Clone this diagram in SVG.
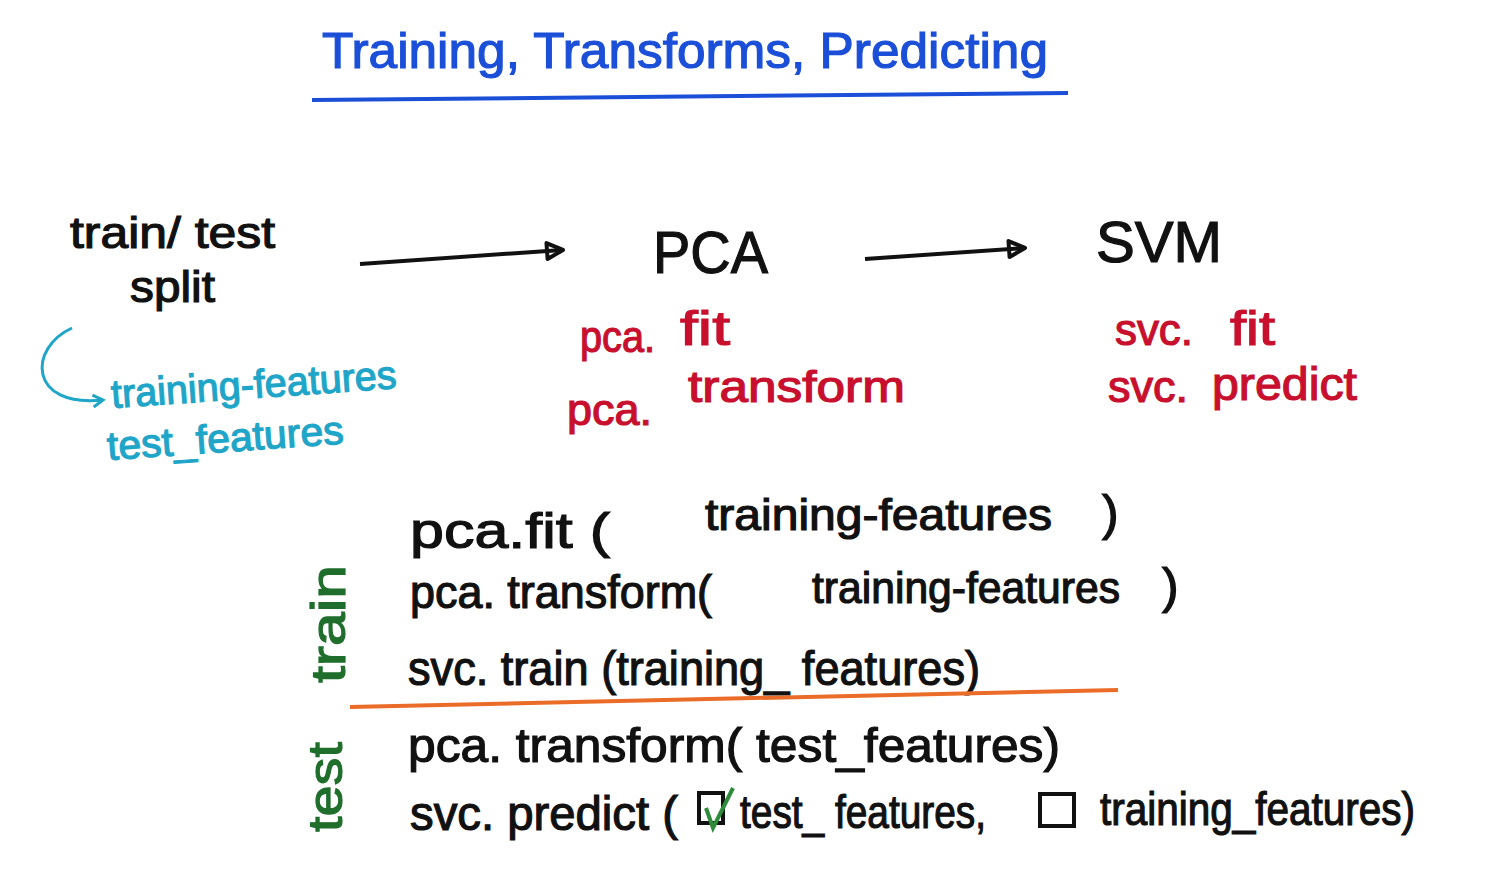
<svg xmlns="http://www.w3.org/2000/svg" width="1498" height="880" viewBox="0 0 1498 880">
<style>
text{font-family:"Liberation Sans","DejaVu Sans",sans-serif;stroke-width:1.2;}
.blk{fill:#111;stroke:#111;}
.red{fill:#c8102e;stroke:#c8102e;}
.cy{fill:#1ea5c8;stroke:#1ea5c8;}
.bl{fill:#1b4fd8;stroke:#1b4fd8;}
.gr{fill:#1f6e2c;stroke:#1f6e2c;}
</style>
<defs>
<marker id="ah" markerWidth="22" markerHeight="22" refX="18" refY="11" orient="auto" markerUnits="userSpaceOnUse">
<path d="M3,3 L19,11 L3,19 Z" fill="none" stroke="#111" stroke-width="4" stroke-linejoin="round"/>
</marker>
<marker id="ahc" markerWidth="16" markerHeight="16" refX="13" refY="8" orient="auto" markerUnits="userSpaceOnUse">
<path d="M3,2 L13,8 L3,14" fill="none" stroke="#1ea5c8" stroke-width="3"/>
</marker>
</defs>
<rect width="1498" height="880" fill="#ffffff"/>
<g id="title">
<text class="bl" x="322" y="68" font-size="50" textLength="726" lengthAdjust="spacingAndGlyphs">Training, Transforms, Predicting</text>
<path d="M312,100 L1068,93" stroke="#1b4fd8" stroke-width="4" fill="none"/>
</g>
<g id="split">
<text class="blk" x="70" y="248" font-size="44" textLength="205" lengthAdjust="spacingAndGlyphs">train/ test</text>
<text class="blk" x="130" y="302" font-size="44" textLength="85" lengthAdjust="spacingAndGlyphs">split</text>
</g>
<g id="pca">
<text class="blk" x="653" y="273" font-size="60" textLength="115" lengthAdjust="spacingAndGlyphs">PCA</text>
<text class="red" x="580" y="352" font-size="44" textLength="75" lengthAdjust="spacingAndGlyphs">pca.</text>
<text class="red" x="680" y="345" font-size="48" textLength="50" lengthAdjust="spacingAndGlyphs">fit</text>
<text class="red" x="567" y="425" font-size="44" textLength="85" lengthAdjust="spacingAndGlyphs">pca.</text>
<text class="red" x="688" y="402" font-size="44" textLength="217" lengthAdjust="spacingAndGlyphs">transform</text>
</g>
<g id="svm">
<text class="blk" x="1096" y="262" font-size="58" textLength="126" lengthAdjust="spacingAndGlyphs">SVM</text>
<text class="red" x="1115" y="345" font-size="44" textLength="78" lengthAdjust="spacingAndGlyphs">svc.</text>
<text class="red" x="1230" y="345" font-size="48" textLength="45" lengthAdjust="spacingAndGlyphs">fit</text>
<text class="red" x="1108" y="402" font-size="44" textLength="80" lengthAdjust="spacingAndGlyphs">svc.</text>
<text class="red" x="1212" y="400" font-size="46" textLength="145" lengthAdjust="spacingAndGlyphs">predict</text>
</g>
<g id="features">
<text class="cy" x="112" y="408" font-size="40" textLength="286" lengthAdjust="spacingAndGlyphs" transform="rotate(-4 112 408)">training-features</text>
<text class="cy" x="108" y="460" font-size="40" textLength="237" lengthAdjust="spacingAndGlyphs" transform="rotate(-4 108 460)">test_features</text>
</g>
<g id="connectors">
<path d="M360,264 L562,250" stroke="#111" stroke-width="4" fill="none" marker-end="url(#ah)"/>
<path d="M865,259 L1024,248" stroke="#111" stroke-width="4" fill="none" marker-end="url(#ah)"/>
<path d="M72,328 C28,348 28,408 103,400" stroke="#1ea5c8" stroke-width="3" fill="none" marker-end="url(#ahc)"/>
</g>
<g id="code">
<text class="blk" x="410" y="548" font-size="50" textLength="200" lengthAdjust="spacingAndGlyphs">pca.fit (</text>
<text class="blk" x="705" y="530" font-size="44" textLength="347" lengthAdjust="spacingAndGlyphs">training-features</text>
<text class="blk" x="1102" y="530" font-size="50">)</text>
<text class="blk" x="410" y="608" font-size="46" textLength="302" lengthAdjust="spacingAndGlyphs">pca. transform(</text>
<text class="blk" x="812" y="603" font-size="44" textLength="308" lengthAdjust="spacingAndGlyphs">training-features</text>
<text class="blk" x="1162" y="603" font-size="50">)</text>
<text class="blk" x="408" y="685" font-size="48" textLength="572" lengthAdjust="spacingAndGlyphs">svc. train (training_ features)</text>
<path d="M350,707 L1118,690" stroke="#ea6c28" stroke-width="4" fill="none"/>
<text class="blk" x="408" y="762" font-size="48" textLength="652" lengthAdjust="spacingAndGlyphs">pca. transform( test_features)</text>
<text class="blk" x="410" y="830" font-size="48" textLength="268" lengthAdjust="spacingAndGlyphs">svc. predict (</text>
<rect x="699" y="793" width="24" height="30" fill="none" stroke="#111" stroke-width="4"/>
<path d="M706,808 L713,828 L733,788" stroke="#2e8b3a" stroke-width="4" fill="none"/>
<text class="blk" x="740" y="828" font-size="46" textLength="246" lengthAdjust="spacingAndGlyphs">test_ features,</text>
<rect x="1040" y="794" width="34" height="32" fill="none" stroke="#111" stroke-width="4"/>
<text class="blk" x="1100" y="825" font-size="46" textLength="315" lengthAdjust="spacingAndGlyphs">training_features)</text>
</g>
<g id="labels">
<text class="gr" x="0" y="0" font-size="48" textLength="118" lengthAdjust="spacingAndGlyphs" transform="translate(345,683) rotate(-90)">train</text>
<text class="gr" x="0" y="0" font-size="48" textLength="90" lengthAdjust="spacingAndGlyphs" transform="translate(342,832) rotate(-90)">test</text>
</g>
</svg>
